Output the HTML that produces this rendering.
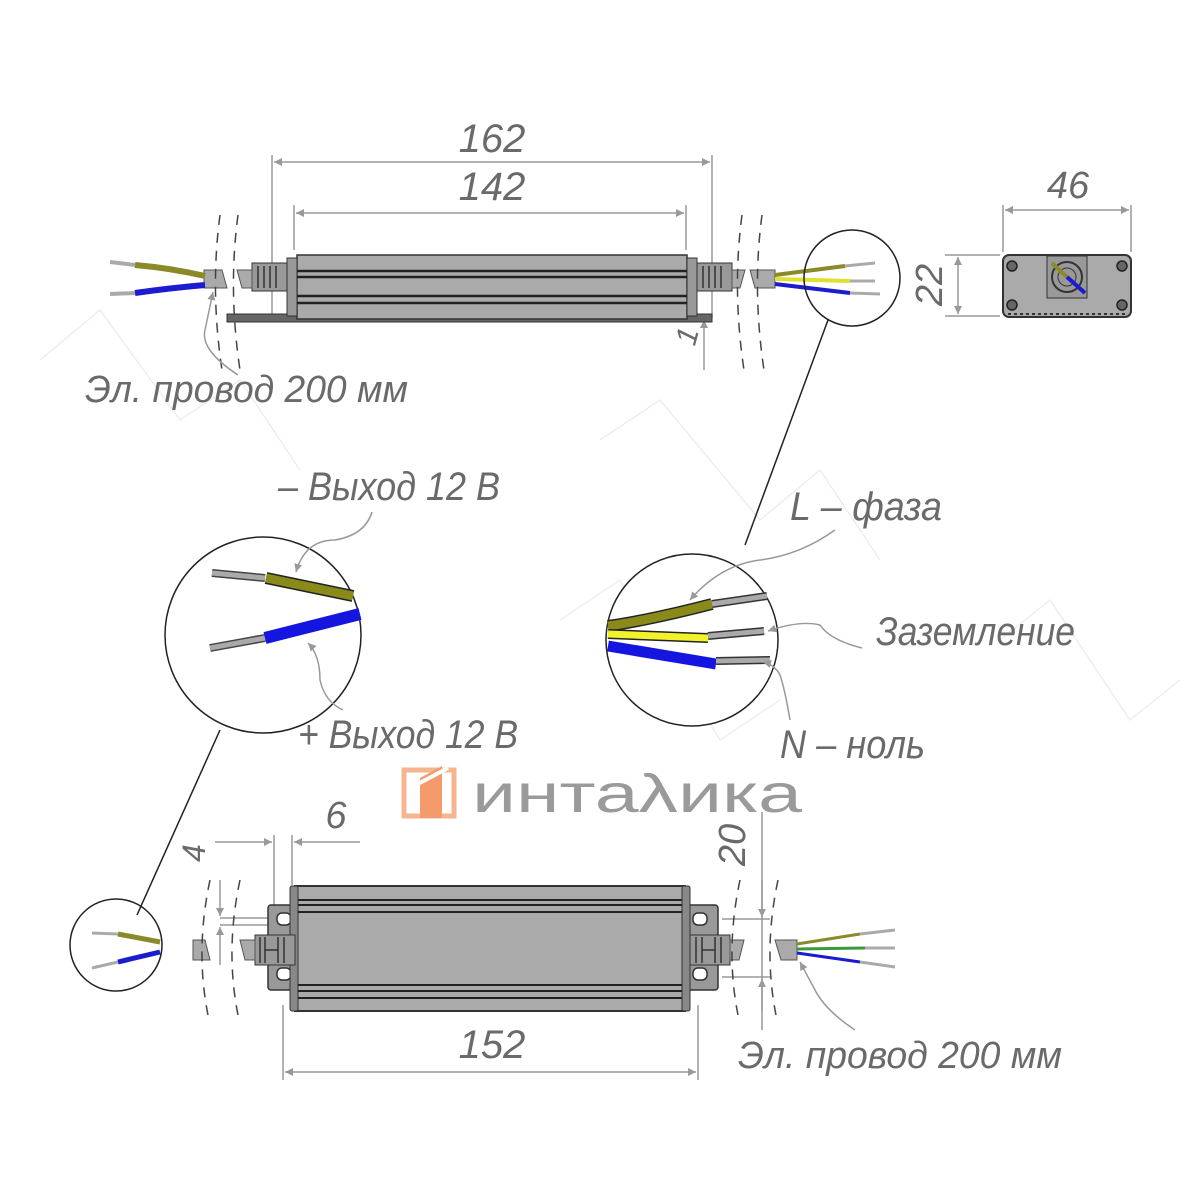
<!DOCTYPE html>
<html><head><meta charset="utf-8"><style>
html,body{margin:0;padding:0;background:#fff}
svg{display:block}
text{font-family:"Liberation Sans Narrow","Liberation Sans","Noto Sans CJK SC",sans-serif;font-style:italic;fill:#6a6a6a}
</style></head><body>
<svg width="1200" height="1200" viewBox="0 0 1200 1200" xmlns="http://www.w3.org/2000/svg">
<defs>
<marker id="a" viewBox="0 0 10 10" refX="10" refY="5" markerWidth="14" markerHeight="8" orient="auto-start-reverse" markerUnits="userSpaceOnUse"><path d="M0,0L10,5L0,10z" fill="#999"/></marker>
</defs>
<g stroke="#eee" stroke-width="1.5" fill="none">
<path d="M40 360 L100 310 L180 420 L240 380 L300 470"/>
<path d="M600 440 L660 400 L760 520 L820 470 L880 560"/>
<path d="M1000 640 L1050 600 L1130 720 L1180 680"/>
<path d="M560 620 L620 580 L720 740 L780 700"/>
</g>

<!-- TOP VIEW -->
<g stroke="#999" stroke-width="1.5" fill="none">
<line x1="272" y1="155" x2="272" y2="318"/><line x1="712" y1="155" x2="712" y2="318"/>
<line x1="294" y1="205" x2="294" y2="250"/><line x1="686" y1="205" x2="686" y2="250"/>
<line x1="274" y1="162" x2="710" y2="162" marker-start="url(#a)" marker-end="url(#a)"/>
<line x1="296" y1="213" x2="684" y2="213" marker-start="url(#a)" marker-end="url(#a)"/>
<line x1="704" y1="370" x2="704" y2="320" marker-end="url(#a)"/>
</g>
<text x="492" y="152" font-size="40" text-anchor="middle">162</text>
<text x="492" y="200" font-size="40" text-anchor="middle">142</text>
<text x="688" y="352" font-size="30" transform="rotate(-75 688 345)">1</text>
<rect x="227" y="314" width="485" height="8" fill="#666" stroke="#333"/>
<rect x="297" y="255" width="390" height="64" fill="#aaa" stroke="#333" stroke-width="1.5"/>
<rect x="287" y="258" width="10" height="58" fill="#999" stroke="#333"/>
<rect x="687" y="258" width="10" height="58" fill="#999" stroke="#333"/>
<g stroke="#222" stroke-width="2.5"><line x1="297" y1="271" x2="687" y2="271"/><line x1="297" y1="277" x2="687" y2="277"/><line x1="297" y1="296" x2="687" y2="296"/><line x1="297" y1="303" x2="687" y2="303"/></g>
<rect x="252" y="263" width="35" height="28" fill="#999" stroke="#333"/>
<rect x="697" y="263" width="35" height="28" fill="#999" stroke="#333"/>
<g stroke="#333" stroke-width="1.5"><path d="M258 266v22M264 266v22M270 266v22M276 266v22M703 266v22M709 266v22M715 266v22M721 266v22"/></g>
<path d="M204 270h18l5 18h-23z" fill="#aaa" stroke="#555"/>
<path d="M237 270h15v18h-10z" fill="#aaa" stroke="#555"/>
<path d="M732 270h13l-5 18h-8z" fill="#aaa" stroke="#555"/>
<path d="M750 270h25v18h-20z" fill="#aaa" stroke="#555"/>
<path d="M205 276 Q170 268 135 265" stroke="#8a8a2a" stroke-width="6" fill="none"/>
<path d="M135 265 L110 262" stroke="#aaa" stroke-width="4"/>
<path d="M205 285 Q170 288 135 293" stroke="#1b1bd0" stroke-width="6" fill="none"/>
<path d="M135 293 L110 294" stroke="#aaa" stroke-width="4"/>
<path d="M775 275 L845 266" stroke="#8a8a2a" stroke-width="4"/><path d="M845 266l30-3" stroke="#aaa" stroke-width="3"/>
<path d="M775 279 L850 281" stroke="#e0e030" stroke-width="4"/><path d="M850 281l25 0" stroke="#aaa" stroke-width="3"/>
<path d="M775 284 L850 293" stroke="#1b1bd0" stroke-width="4"/><path d="M850 293l30 1" stroke="#aaa" stroke-width="3"/>
<g stroke="#444" stroke-width="1.5" fill="none" stroke-dasharray="10 8">
<path d="M220 215 Q210 290 222 370"/><path d="M238 215 Q228 290 240 370"/>
<path d="M742 215 Q732 290 744 370"/><path d="M762 215 Q752 290 764 370"/>
</g>
<path d="M238 375 Q200 350 205 330 L213 292" stroke="#999" stroke-width="1.5" fill="none" marker-end="url(#a)"/>
<text x="85" y="402" font-size="38" textLength="323" lengthAdjust="spacingAndGlyphs">Эл. провод 200 мм</text>
<!-- end view -->
<g stroke="#999" stroke-width="1.5" fill="none">
<line x1="1003" y1="205" x2="1003" y2="252"/><line x1="1131" y1="205" x2="1131" y2="252"/>
<line x1="1005" y1="210" x2="1129" y2="210" marker-start="url(#a)" marker-end="url(#a)"/>
<line x1="945" y1="255" x2="1000" y2="255"/><line x1="945" y1="316" x2="1000" y2="316"/>
<line x1="958" y1="257" x2="958" y2="314" marker-start="url(#a)" marker-end="url(#a)"/>
</g>
<text x="1068" y="198" font-size="38" text-anchor="middle">46</text>
<text x="942" y="285" font-size="38" text-anchor="middle" transform="rotate(-90 942 285)">22</text>
<rect x="1003" y="255" width="128" height="62" rx="6" fill="#aaa" stroke="#333" stroke-width="2"/>
<g fill="#666" stroke="#222" stroke-width="1.5"><circle cx="1012" cy="266" r="5"/><circle cx="1122" cy="266" r="5"/><circle cx="1012" cy="305" r="5"/><circle cx="1122" cy="305" r="5"/></g>
<rect x="1047" y="256" width="40" height="42" fill="#999" stroke="#333"/>
<circle cx="1067" cy="277" r="15" fill="none" stroke="#333" stroke-width="2"/><circle cx="1067" cy="277" r="9" fill="none" stroke="#333"/>
<path d="M1052 263L1067 277" stroke="#8a8a2a" stroke-width="4"/><path d="M1067 277L1085 293" stroke="#1b1bd0" stroke-width="4"/>
<line x1="1008" y1="314" x2="1126" y2="314" stroke="#333" stroke-dasharray="3 3" stroke-width="2"/>

<!-- detail circles -->
<circle cx="852" cy="278" r="48" fill="none" stroke="#222" stroke-width="1.5"/>
<line x1="828" y1="320" x2="745" y2="545" stroke="#222" stroke-width="1.5"/>
<circle cx="692" cy="640" r="86" fill="#fff" stroke="#222" stroke-width="1.5"/>
<path d="M608 626 Q650 620 712 604" stroke="#222" stroke-width="12" fill="none"/>
<path d="M608 626 Q650 620 712 604" stroke="#8a8a1a" stroke-width="9" fill="none"/>
<path d="M712 604 L767 596" stroke="#333" stroke-width="8"/><path d="M712 604 L767 596" stroke="#aaa" stroke-width="5"/>
<path d="M608 634 L708 638" stroke="#222" stroke-width="10"/><path d="M608 634 L708 638" stroke="#f2f22a" stroke-width="7"/>
<path d="M708 636 L764 631" stroke="#333" stroke-width="8"/><path d="M708 636 L764 631" stroke="#aaa" stroke-width="5"/>
<path d="M608 646 L716 664" stroke="#1515e0" stroke-width="11"/>
<path d="M716 661 L770 660" stroke="#333" stroke-width="8"/><path d="M716 661 L770 660" stroke="#aaa" stroke-width="5"/>
<g stroke="#999" stroke-width="1.5" fill="none">
<path d="M835 530 Q800 555 760 560 Q720 565 690 600" marker-end="url(#a)"/>
<path d="M862 648 Q830 640 820 625 Q800 620 768 631" marker-end="url(#a)"/>
<path d="M790 720 Q785 690 780 675 Q775 665 763 662" marker-end="url(#a)"/>
</g>
<text x="790" y="520" font-size="40" textLength="152" lengthAdjust="spacingAndGlyphs">L – фаза</text>
<text x="876" y="645" font-size="40" textLength="199" lengthAdjust="spacingAndGlyphs">Заземление</text>
<text x="780" y="758" font-size="40" textLength="145" lengthAdjust="spacingAndGlyphs">N – ноль</text>

<circle cx="263" cy="635" r="98" fill="#fff" stroke="#222" stroke-width="1.5"/>
<line x1="220" y1="730" x2="137" y2="915" stroke="#222" stroke-width="1.5"/>
<path d="M212 573 L265 578" stroke="#444" stroke-width="8"/><path d="M212 573 L265 578" stroke="#aaa" stroke-width="5"/>
<path d="M266 578 L353 596" stroke="#222" stroke-width="12"/><path d="M266 578 L353 596" stroke="#8a8a1a" stroke-width="9"/>
<path d="M210 648 L265 638" stroke="#444" stroke-width="8"/><path d="M210 648 L265 638" stroke="#aaa" stroke-width="5"/>
<path d="M265 638 L360 614" stroke="#1515e0" stroke-width="12"/>
<g stroke="#999" stroke-width="1.5" fill="none">
<path d="M372 512 Q365 535 335 540 Q305 540 296 572" marker-end="url(#a)"/>
<path d="M343 710 Q325 702 320 680 Q320 655 308 643" marker-end="url(#a)"/>
</g>
<text x="278" y="500" font-size="40" textLength="222" lengthAdjust="spacingAndGlyphs">– Выход 12 В</text>
<text x="298" y="748" font-size="40" textLength="220" lengthAdjust="spacingAndGlyphs">+ Выход 12 В</text>

<circle cx="116" cy="945" r="46" fill="none" stroke="#222" stroke-width="1.5"/>
<path d="M92 933 L118 934" stroke="#aaa" stroke-width="3"/><path d="M118 934 L160 942" stroke="#8a8a2a" stroke-width="5"/>
<path d="M92 968 L118 962" stroke="#aaa" stroke-width="3"/><path d="M118 962 L160 952" stroke="#1b1bd0" stroke-width="5"/>

<!-- logo -->
<rect x="404" y="770" width="50" height="46" fill="none" stroke="#f7b48e" stroke-width="5"/>
<path d="M420 778 L442 766 L442 818 L420 818z" fill="#f59a6a"/>
<path d="M414 786 L448 768" stroke="#fff" stroke-width="4"/>
<text x="472" y="812" font-size="54" style="font-style:normal;fill:#9a9a9a;font-family:'Liberation Sans',sans-serif" textLength="330" lengthAdjust="spacingAndGlyphs">интаλика</text>

<!-- BOTTOM VIEW -->
<g stroke="#999" stroke-width="1.5" fill="none">
<line x1="283" y1="1005" x2="283" y2="1080"/><line x1="698" y1="1005" x2="698" y2="1080"/>
<line x1="285" y1="1072" x2="696" y2="1072" marker-start="url(#a)" marker-end="url(#a)"/>
<line x1="274" y1="835" x2="274" y2="905"/><line x1="292" y1="835" x2="292" y2="885"/>
<line x1="215" y1="842" x2="272" y2="842" marker-end="url(#a)"/>
<line x1="360" y1="842" x2="294" y2="842" marker-end="url(#a)"/>
<line x1="220" y1="918" x2="270" y2="918"/><line x1="220" y1="925" x2="270" y2="925"/>
<line x1="220" y1="880" x2="220" y2="916" marker-end="url(#a)"/>
<line x1="220" y1="965" x2="220" y2="927" marker-end="url(#a)"/>
<line x1="762" y1="812" x2="762" y2="1030"/>
<line x1="722" y1="919" x2="770" y2="919"/><line x1="722" y1="977" x2="770" y2="977"/>
<line x1="762" y1="880" x2="762" y2="917" marker-end="url(#a)"/>
<line x1="762" y1="1010" x2="762" y2="979" marker-end="url(#a)"/>
</g>
<text x="492" y="1058" font-size="40" text-anchor="middle">152</text>
<text x="336" y="828" font-size="38" text-anchor="middle">6</text>
<text x="205" y="862" font-size="32" transform="rotate(-90 205 862)">4</text>
<text x="745" y="845" font-size="38" text-anchor="middle" transform="rotate(-90 745 845)">20</text>
<rect x="268" y="905" width="30" height="85" rx="3" fill="#999" stroke="#333" stroke-width="1.5"/>
<rect x="685" y="905" width="33" height="85" rx="3" fill="#999" stroke="#333" stroke-width="1.5"/>
<g fill="#fff" stroke="#333" stroke-width="1.5"><rect x="277" y="913" width="14" height="12" rx="5"/><rect x="277" y="968" width="14" height="12" rx="5"/><rect x="693" y="913" width="14" height="12" rx="5"/><rect x="693" y="968" width="14" height="12" rx="5"/></g>
<rect x="295" y="886" width="390" height="125" fill="#aaa" stroke="#333" stroke-width="2"/>
<rect x="290" y="886" width="8" height="125" rx="2" fill="#888" stroke="#333"/>
<rect x="682" y="886" width="8" height="125" rx="2" fill="#888" stroke="#333"/>
<g stroke="#222" stroke-width="2"><line x1="298" y1="900" x2="682" y2="900"/><line x1="298" y1="905" x2="682" y2="905"/><line x1="298" y1="912" x2="682" y2="912"/><line x1="298" y1="985" x2="682" y2="985"/><line x1="298" y1="991" x2="682" y2="991"/><line x1="298" y1="998" x2="682" y2="998"/></g>
<rect x="255" y="935" width="40" height="30" fill="#999" stroke="#333"/>
<rect x="690" y="935" width="40" height="30" fill="#999" stroke="#333"/>
<g stroke="#333" stroke-width="1.5"><path d="M260 937v26M265 937v26M278 937v26M284 937v26M696 937v26M702 937v26M715 937v26M721 937v26M265 950h13M702 950h13"/></g>
<path d="M240 940h15v20h-10z" fill="#aaa" stroke="#555"/>
<path d="M730 940h14l-5 20h-9z" fill="#aaa" stroke="#555"/>
<path d="M193 940h12l5 20h-17z" fill="#aaa" stroke="#555"/>
<path d="M775 940h22v20h-16z" fill="#aaa" stroke="#555"/>
<path d="M797 944 L860 934" stroke="#8a8a2a" stroke-width="3"/><path d="M860 934l35-4" stroke="#aaa" stroke-width="3"/>
<path d="M797 949 L865 948" stroke="#3a9a3a" stroke-width="3"/><path d="M865 948l30 0" stroke="#aaa" stroke-width="3"/>
<path d="M797 953 L860 962" stroke="#1b1bd0" stroke-width="3"/><path d="M860 962l35 5" stroke="#aaa" stroke-width="3"/>
<g stroke="#444" stroke-width="1.5" fill="none" stroke-dasharray="10 8">
<path d="M210 880 Q195 950 208 1015"/><path d="M240 880 Q225 950 238 1015"/>
<path d="M740 880 Q725 950 738 1015"/><path d="M778 880 Q763 950 776 1015"/>
</g>
<path d="M855 1030 Q825 1010 815 990 L800 962" stroke="#999" stroke-width="1.5" fill="none" marker-end="url(#a)"/>
<text x="738" y="1068" font-size="38" textLength="324" lengthAdjust="spacingAndGlyphs">Эл. провод 200 мм</text>
</svg>
</body></html>
